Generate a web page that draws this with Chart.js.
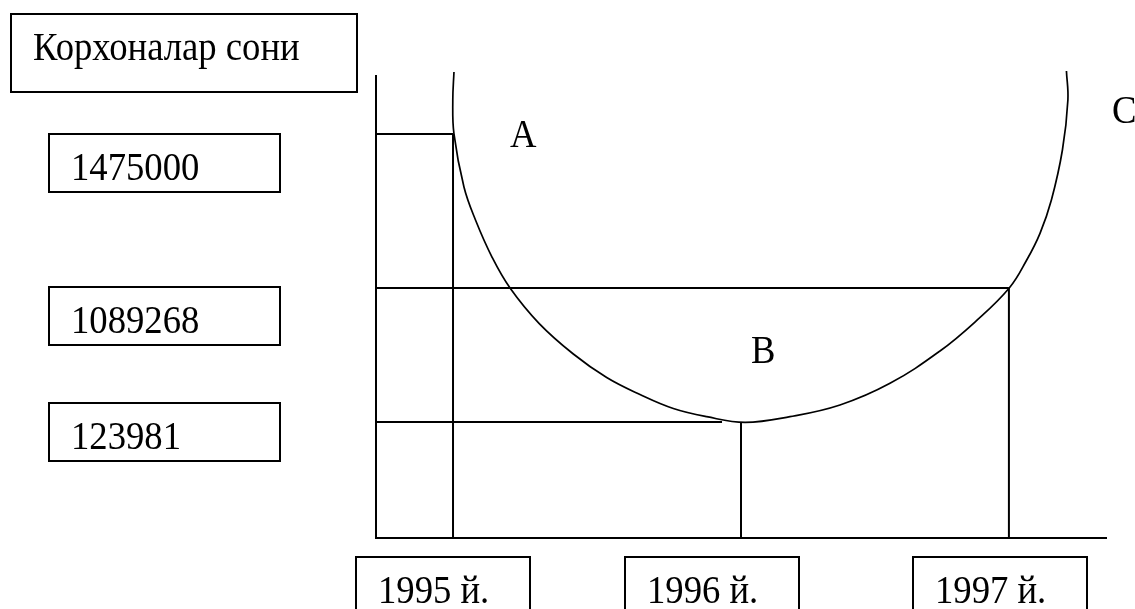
<!DOCTYPE html>
<html>
<head>
<meta charset="utf-8">
<title>Корхоналар сони</title>
<script src="https://cdn.jsdelivr.net/npm/chart.js@4.4.1/dist/chart.umd.min.js"></script>
<style>
    html, body { margin: 0; padding: 0; background: #fff; }
    #wrap { width: 1135px; height: 609px; }
</style>
</head>
<body>
<div id="wrap"><canvas id="diagram" width="1135" height="609"></canvas></div>
<script>
// Both axes run 0..100 (schematic units, origin at the corner of the axes)
const years = ["1995 й.", "1996 й.", "1997 й."];
const yearX = [10.55, 50.0, 86.7];          // where each year sits on the x axis
const yearLineTop = [87.45, 25.11, 54.11];  // vertical guide goes up to this level

const values = ["1475000", "1089268", "123981"];
const valueY = [87.45, 54.11, 25.11];       // where each value sits on the y axis
const valueLineEnd = [10.55, 86.7, 47.4];   // horizontal guide runs out to here

// the U-shaped curve
const curveX = [10.68, 10.52, 10.68, 12.05, 13.63, 15.89, 18.36, 22.33, 27.03, 31.60, 36.16,
                40.73, 45.30, 50.55, 56.71, 63.56, 70.41, 77.26, 82.05, 86.75, 89.14, 90.96,
                92.52, 94.03, 94.78, 94.58];
const curveY = [100.87, 94.81, 87.45, 75.97, 68.83, 60.82, 54.11, 46.47, 39.83, 34.74, 31.06,
                28.03, 26.26, 25.04, 26.26, 28.79, 33.48, 40.48, 46.75, 54.11, 60.17, 65.95,
                73.16, 83.98, 94.81, 101.08];

// point letters
const pointNames = ["A", "B", "C"];
const pointNameX = [18.36, 51.37, 100.82];
const pointNameY = [84.63, 37.88, 89.83];

const axisTitle = "Корхоналар сони";

// label boxes (layout only)
const FONT = "39px 'Liberation Serif', 'Times New Roman', serif";
const TEXT_SQUEEZE = 0.94;
const titleBox = { left: 11, top: 14, width: 346, height: 78 };
const valueBox = { left: 49, width: 231, height: 58, tops: [134, 287, 403] };
const yearBox = { width: 174, top: 557, height: 70, lefts: [356, 625, 913] };
const TEXT_PAD = 22, BASELINE = 46;

function segment(x1, y1, x2, y2) {
    return {
        data: [{ x: x1, y: y1 }, { x: x2, y: y2 }],
        borderColor: "#000",
        borderWidth: 2,
        tension: 0
    };
}

const datasets = [];
values.forEach((v, i) => datasets.push(segment(0, valueY[i], valueLineEnd[i], valueY[i])));
years.forEach((y, i) => datasets.push(segment(yearX[i], 0, yearX[i], yearLineTop[i])));
datasets.push({
    data: curveX.map((x, i) => ({ x: x, y: curveY[i] })),
    borderColor: "#000",
    borderWidth: 1.7,
    tension: 0.4,
    clip: false
});

function drawText(ctx, text, x, y) {
    ctx.save();
    ctx.translate(x, y);
    ctx.scale(TEXT_SQUEEZE, 1);
    ctx.fillText(text, 0, 0);
    ctx.restore();
}

const boxesPlugin = {
    id: "boxes",
    afterDraw(chart) {
        const ctx = chart.ctx;
        const xs = chart.scales.x, ys = chart.scales.y;
        ctx.save();
        ctx.strokeStyle = "#000";
        ctx.fillStyle = "#000";
        ctx.lineWidth = 2;
        ctx.font = FONT;
        ctx.textBaseline = "alphabetic";
        ctx.textAlign = "left";

        // y axis title box
        ctx.strokeRect(titleBox.left, titleBox.top, titleBox.width, titleBox.height);
        drawText(ctx, axisTitle, titleBox.left + TEXT_PAD, titleBox.top + BASELINE);

        // value boxes
        values.forEach((v, i) => {
            const top = valueBox.tops[i];
            ctx.strokeRect(valueBox.left, top, valueBox.width, valueBox.height);
            drawText(ctx, v, valueBox.left + TEXT_PAD, top + BASELINE);
        });

        // year boxes
        years.forEach((y, i) => {
            const left = yearBox.lefts[i];
            ctx.strokeRect(left, yearBox.top, yearBox.width, yearBox.height);
            drawText(ctx, y, left + TEXT_PAD, yearBox.top + BASELINE);
        });

        // letters on the curve
        pointNames.forEach((n, i) => {
            drawText(ctx, n, xs.getPixelForValue(pointNameX[i]), ys.getPixelForValue(pointNameY[i]));
        });
        ctx.restore();
    }
};

const axisOpts = {
    type: "linear",
    min: 0,
    max: 100,
    ticks: { display: false },
    grid: { display: false, drawTicks: false },
    border: { display: true, color: "#000", width: 2 }
};

new Chart(document.getElementById("diagram"), {
    type: "scatter",
    data: { datasets: datasets },
    options: {
        responsive: false,
        animation: false,
        events: [],
        showLine: true,
        layout: { padding: { left: 376, top: 76, right: 29, bottom: 71 } },
        elements: {
            point: { radius: 0 },
            line: { capBezierPoints: false, fill: false }
        },
        plugins: {
            legend: { display: false },
            tooltip: { enabled: false }
        },
        scales: {
            x: Object.assign({ position: "bottom" }, axisOpts),
            y: Object.assign({ position: "left" }, axisOpts)
        }
    },
    plugins: [boxesPlugin]
});
</script>
</body>
</html>
